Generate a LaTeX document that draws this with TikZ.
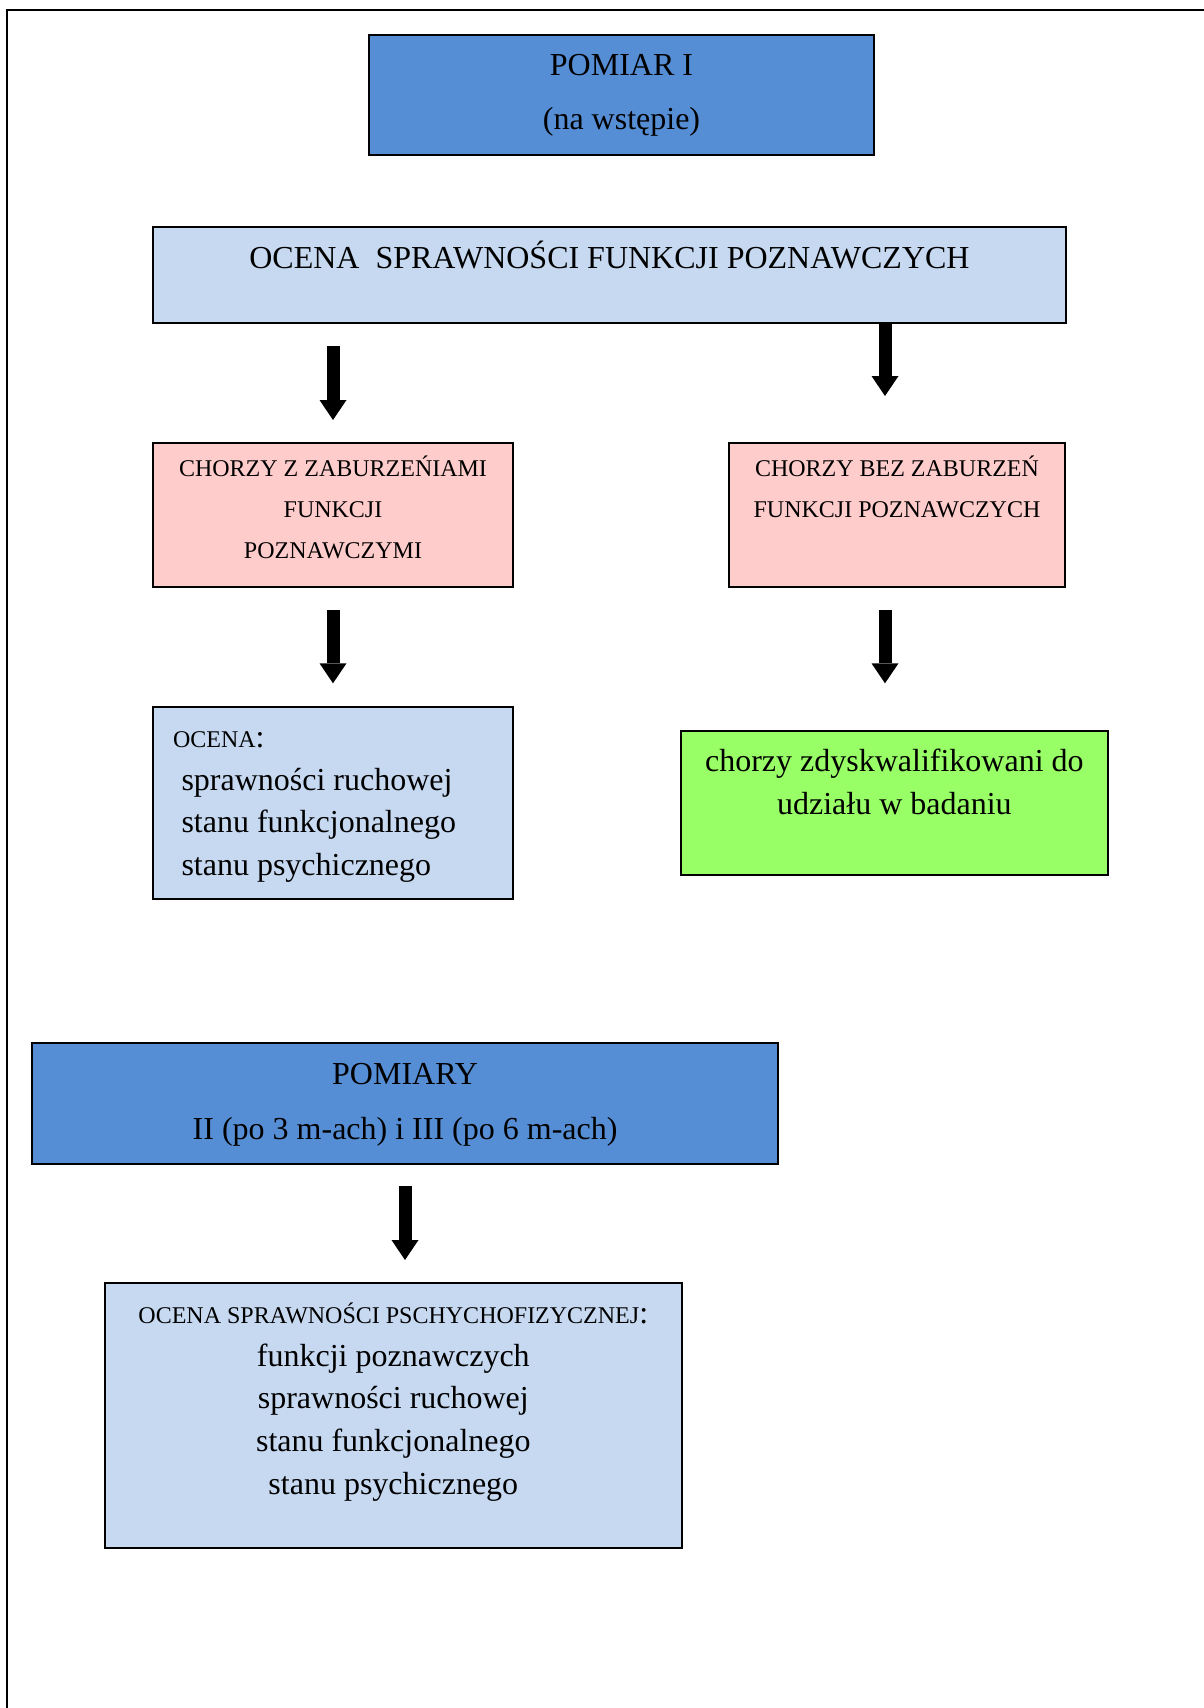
\documentclass[tikz,border=0pt]{standalone}
\usepackage{fontspec}
\setmainfont{Liberation Serif}
\usetikzlibrary{arrows.meta}
\definecolor{darkblue}{HTML}{558ED5}
\definecolor{lightblue}{HTML}{C6D9F1}
\definecolor{pinkbox}{HTML}{FFCCCC}
\definecolor{greenbox}{HTML}{99FF66}
% #1 alignment, #2 width, #3 height, #4 first baseline offset, #5 line skip, #6 content
\newcommand\boxcontent[6][\centering]{%
  \begin{minipage}[t][#3][t]{#2}\lineskiplimit=-\maxdimen
  \fontsize{16}{#5}\selectfont#1\rule{0pt}{#4}#6\end{minipage}}
\newcommand\smallcaps[1]{{\fontsize{12}{12}\selectfont #1}}
\tikzset{
  box/.style={draw=black, line width=1pt, inner sep=0pt, outer sep=0pt, anchor=north west},
  bigarrow/.style={line width=6.5pt, -{Triangle[width=13.5pt,length=10pt,line width=0pt]}},
  frame/.style={draw=black, line width=1pt}
}
\begin{document}
\begin{tikzpicture}[x=0.5pt,y=-0.5pt]
\useasboundingbox (0,0) rectangle (1204,1708);
% page frame
\coordinate (ftr) at (1204,9.7);
\coordinate (ftl) at (7.2,9.7);
\coordinate (fbl) at (7.2,1708);
\draw[frame] (ftr) -- (ftl) -- (fbl);

% boxes
\node[box, fill=darkblue] (pom1) at (369,34.5)
  {\boxcontent{252.5pt}{60.4pt}{20.6pt}{27pt}{POMIAR I\\(na wstępie)}};
\node[box, fill=lightblue] (ocena) at (153,227)
  {\boxcontent{456.5pt}{48.2pt}{20.6pt}{21pt}{OCENA~ SPRAWNOŚCI FUNKCJI POZNAWCZYCH}};
\node[box, fill=pinkbox] (pinkL) at (153,442.7)
  {\boxcontent{180pt}{72.3pt}{16.65pt}{20.65pt}{\fontsize{12}{20.65}\selectfont CHORZY Z ZABURZEŃIAMI\\FUNKCJI\\POZNAWCZYMI}};
\node[box, fill=pinkbox] (pinkR) at (728.6,442.7)
  {\boxcontent{168.4pt}{72.3pt}{16.65pt}{20.65pt}{\fontsize{12}{20.65}\selectfont CHORZY BEZ ZABURZEŃ\\FUNKCJI POZNAWCZYCH}};
\node[box, fill=lightblue] (ocenaL) at (153,706.7)
  {\boxcontent[\raggedright]{180pt}{96.3pt}{20.3pt}{21.4pt}{\hspace*{10pt}\smallcaps{OCENA}:\\
   \hspace*{14.25pt}sprawności ruchowej\\
   \hspace*{14.25pt}stanu funkcjonalnego\\
   \hspace*{14.25pt}stanu psychicznego}};
\node[box, fill=greenbox] (green) at (680.8,730.7)
  {\boxcontent{213.6pt}{72.3pt}{20.6pt}{21.35pt}{chorzy zdyskwalifikowani do\\udziału w badaniu}};
\node[box, fill=darkblue] (pomiary) at (32.1,1043.2)
  {\boxcontent{373pt}{60.35pt}{20.4pt}{27.8pt}{POMIARY\\II (po 3 m-ach) i III (po 6 m-ach)}};
\node[box, fill=lightblue] (ocenaB) at (104.6,1283.2)
  {\boxcontent{288.75pt}{132.35pt}{20.1pt}{21.35pt}{\smallcaps{OCENA SPRAWNOŚCI PSCHYCHOFIZYCZNEJ}:\\
   funkcji poznawczych\\sprawności ruchowej\\stanu funkcjonalnego\\stanu psychicznego}};

% arrows
\coordinate (a1s) at (333,346);
\coordinate (a1e) at (333,420);
\coordinate (a2e) at (885,396);
\coordinate (a3s) at (333,610);
\coordinate (a3e) at (333,683.3);
\coordinate (a4s) at (885,610);
\coordinate (a4e) at (885,683.3);
\coordinate (a5s) at (405,1186);
\coordinate (a5e) at (405,1260);
\draw[bigarrow] (a1s) -- (a1e);
\draw[bigarrow] (a2e |- ocena.south) -- (a2e);
\draw[bigarrow] (a3s) -- (a3e);
\draw[bigarrow] (a4s) -- (a4e);
\draw[bigarrow] (a5s) -- (a5e);
\end{tikzpicture}
\end{document}
